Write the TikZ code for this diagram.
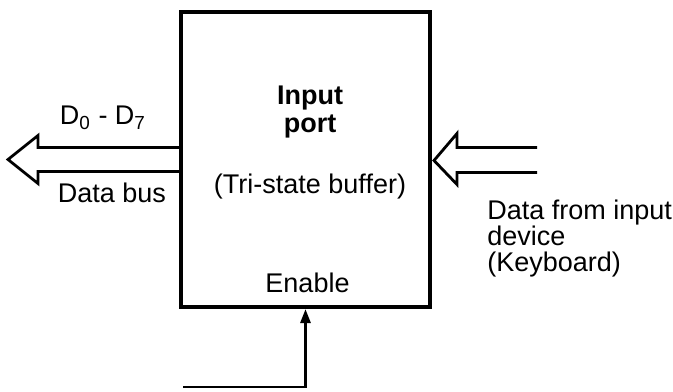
\documentclass[tikz,border=0pt]{standalone}
\usepackage{fontspec}
\setmainfont{Liberation Sans}
\usetikzlibrary{arrows.meta, positioning, calc}

\tikzset{
  portbox/.style={draw, line width=2pt, minimum width=124.5pt, minimum height=147.5pt, inner sep=0pt},
  txt/.style={inner sep=0pt, font=\fontsize{13.5}{13}\selectfont},
  busline/.style={line width=1.4pt, line join=miter},
}

\begin{document}
\begin{tikzpicture}[x=0.5pt, y=0.5pt]
  \useasboundingbox (0,0) rectangle (673,391);
  % the buffer
  \node[portbox] (port) at (305.5,231.5) {};
  \node[txt, anchor=base, font=\fontsize{13.5}{13}\selectfont\bfseries] (name1) at (310,286) {Input};
  \node[txt, anchor=base, font=\fontsize{13.5}{13}\selectfont\bfseries] (name2) at (310,258) {port};
  \node[txt, anchor=base] (kind) at (310,198) {(Tri-state buffer)};
  \node[txt, anchor=base] (enlbl) at (307.5,99) {Enable};
  % data bus (hollow arrow out)
  \draw[busline] ($(port.west)+(0,12)$) -- ++(-141,0) -- ++(0,12)
    -- ($(port.west)+(-171,0)$) -- ++(30,-24) -- ++(0,12) -- ($(port.west)+(0,-12)$);
  \node[txt, anchor=base] (bus1) at (103,266) {D\textsubscript{0} - D\textsubscript{7}};
  \node[txt, anchor=base] (bus2) at (112,189) {Data bus};
  % data from input device (hollow arrow in)
  \draw[busline] ($(port.east)+(105,12)$) -- ++(-80,0) -- ++(0,14)
    -- ($(port.east)+(2,-1)$) -- ++(23,-24) -- ++(0,12) -- ++(80,0);
  \node[txt, anchor=north west, align=left] (dev) at (487,191) {Data from input\\device\\(Keyboard)};
  % enable line
  \coordinate (en) at (183,4);
  \draw[busline, -{Triangle[length=7pt,width=5pt]}] (en) -| (port.south);
\end{tikzpicture}
\end{document}
